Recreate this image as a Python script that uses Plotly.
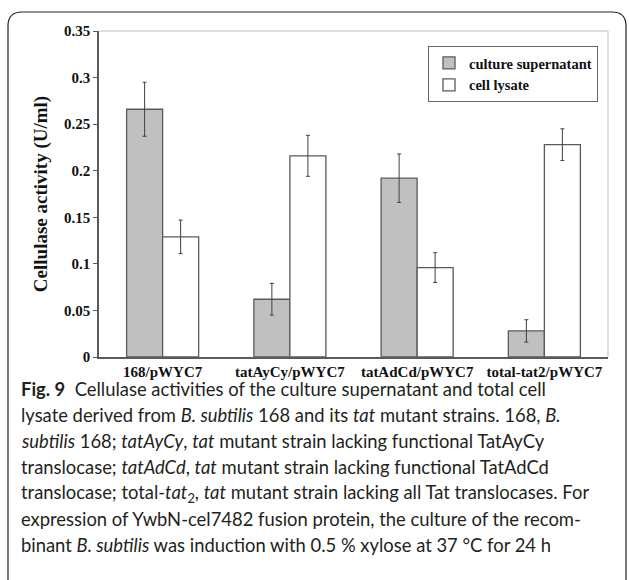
import plotly.graph_objects as go

categories = ["168/pWYC7", "tatAyCy/pWYC7", "tatAdCd/pWYC7", "total-tat2/pWYC7"]
supernatant = [0.266, 0.062, 0.192, 0.028]
supernatant_err = [0.029, 0.017, 0.026, 0.012]
lysate = [0.129, 0.216, 0.096, 0.228]
lysate_err = [0.018, 0.022, 0.016, 0.017]
series_names = ["culture supernatant", "cell lysate"]
y_ticks = [0, 0.05, 0.1, 0.15, 0.2, 0.25, 0.3, 0.35]
y_tick_text = ["0", "0.05", "0.1", "0.15", "0.2", "0.25", "0.3", "0.35"]
caption_lines = [
    "<b>Fig. 9</b>  Cellulase activities of the culture supernatant and total cell",
    "lysate derived from <i>B. subtilis</i> 168 and its <i>tat</i> mutant strains. 168, <i>B.</i>",
    "<i>subtilis</i> 168; <i>tatAyCy</i>, <i>tat</i> mutant strain lacking functional TatAyCy",
    "translocase; <i>tatAdCd</i>, <i>tat</i> mutant strain lacking functional TatAdCd",
    "translocase; total-<i>tat</i><sub>2</sub>, <i>tat</i> mutant strain lacking all Tat translocases. For",
    "expression of YwbN-cel7482 fusion protein, the culture of the recom-",
    "binant <i>B. subtilis</i> was induction with 0.5 % xylose at 37 \u00b0C for 24 h",
]

W, H = 629, 580
L, R, T, B = 99, 608, 31, 357


def px(x):
    return (x - L) / (R - L)


def py(y):
    return (B - y) / (B - T)


serif = "Liberation Serif"
fig = go.Figure()
fig.add_bar(
    x=categories, y=supernatant, name=f"<b>{series_names[0]}</b>",
    marker=dict(color="#c0c0c0", line=dict(color="#5a5a5a", width=1.3)),
    error_y=dict(type="data", array=supernatant_err, color="#404040", thickness=1, width=2),
)
fig.add_bar(
    x=categories, y=lysate, name=f"<b>{series_names[1]}</b>",
    marker=dict(color="#ffffff", line=dict(color="#5a5a5a", width=1.3)),
    error_y=dict(type="data", array=lysate_err, color="#404040", thickness=1, width=2),
)

shapes = [
    dict(type="line", xref="paper", yref="paper", x0=0, x1=1, y0=1, y1=1,
         line=dict(color="#d4d4d4", width=1.5)),
    dict(type="line", xref="paper", yref="paper", x0=1, x1=1, y0=0, y1=1,
         line=dict(color="#d4d4d4", width=1.5)),
]
# rounded frame
fx0, fx1, fy0, fy1, r = 8, 626, 12, 600, 14
path = (f"M {px(fx0)},{py(fy1)} L {px(fx0)},{py(fy0 + r)} "
        f"Q {px(fx0)},{py(fy0)} {px(fx0 + r)},{py(fy0)} "
        f"L {px(fx1 - r)},{py(fy0)} Q {px(fx1)},{py(fy0)} {px(fx1)},{py(fy0 + r)} "
        f"L {px(fx1)},{py(fy1)}")
shapes.append(dict(type="path", xref="paper", yref="paper", path=path,
                   line=dict(color="#222222", width=1.2)))

annotations = []
for i, line in enumerate(caption_lines):
    annotations.append(dict(
        xref="paper", yref="paper", x=px(19), y=py(389 + 26 * i),
        xanchor="left", yanchor="middle", showarrow=False, text=line,
        font=dict(family="Lato", size=18.4, color="#231f20"),
    ))

fig.update_layout(
    width=W, height=H,
    margin=dict(l=L, r=W - R, t=T, b=H - B, pad=0),
    paper_bgcolor="white", plot_bgcolor="white",
    barmode="group", bargap=0.434, bargroupgap=0,
    showlegend=True,
    legend=dict(
        x=px(598), y=py(46), xanchor="right", yanchor="top",
        bordercolor="#666666", borderwidth=1, bgcolor="white",
        font=dict(family=serif, size=14.5, color="#111111"),
        itemwidth=30, tracegroupgap=0, traceorder="normal",
    ),
    xaxis=dict(
        range=[-0.5, 3.5], showline=True, linecolor="#5a5a5a", linewidth=1.5,
        ticks="", tickfont=dict(family=serif, size=15, color="#111111"),
        tickvals=categories, ticktext=[f"<b>{c}</b>" for c in categories],
        showgrid=False, zeroline=False,
    ),
    yaxis=dict(
        range=[0, 0.35], tickvals=y_ticks, ticktext=[f"<b>{t}</b>" for t in y_tick_text],
        showline=True, linecolor="#5a5a5a", linewidth=1.5,
        ticks="outside", ticklen=4, tickcolor="#5a5a5a",
        tickfont=dict(family=serif, size=15, color="#111111"),
        showgrid=False, zeroline=False,
        title=dict(text="<b>Cellulase activity (U/ml)</b>",
                   font=dict(family=serif, size=19, color="#111111"), standoff=11),
    ),
    shapes=shapes, annotations=annotations,
)
fig.write_html("out.html", config={"displayModeBar": False},
               post_script="document.body.style.margin='0';")
